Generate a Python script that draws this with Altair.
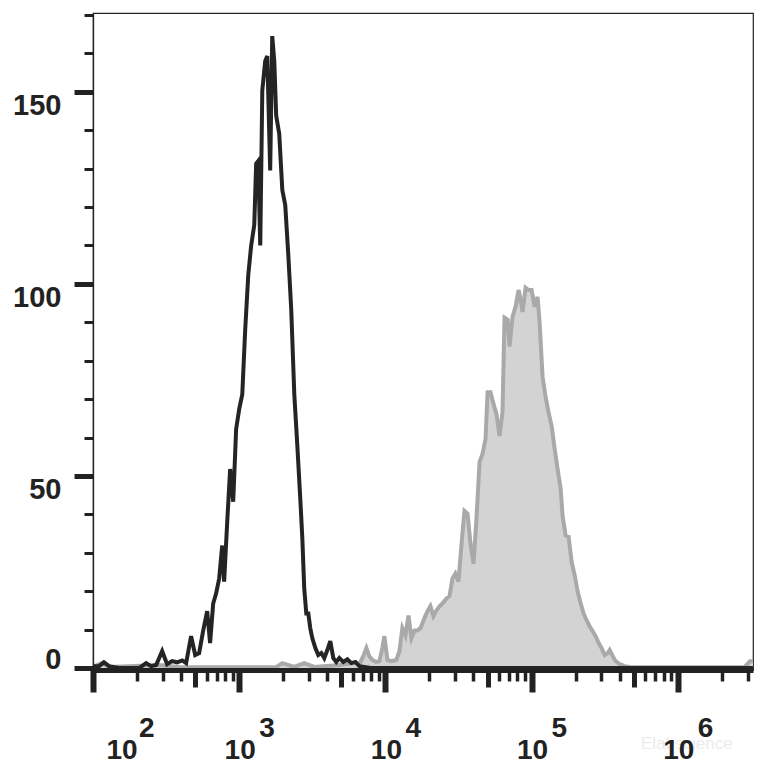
import altair as alt
import pandas as pd

# ---- data (log10 fluorescence, event count) ----
black_log = [2.000, 2.041, 2.075, 2.110, 2.178, 2.247, 2.315, 2.363, 2.397, 2.432,
             2.473, 2.507, 2.541, 2.575, 2.610, 2.637, 2.671, 2.699, 2.726, 2.753,
             2.781, 2.801, 2.822, 2.842, 2.863, 2.884, 2.897, 2.918, 2.938, 2.959,
             2.979, 3.000, 3.021, 3.041, 3.062, 3.082, 3.103, 3.116, 3.130, 3.144,
             3.158, 3.178, 3.192, 3.212, 3.226, 3.240, 3.253, 3.274, 3.295, 3.315,
             3.336, 3.356, 3.377, 3.397, 3.418, 3.432, 3.445, 3.459, 3.473, 3.486,
             3.500, 3.521, 3.541, 3.562, 3.582, 3.603, 3.623, 3.644, 3.664, 3.685,
             3.712, 3.740, 3.767, 3.795, 3.822, 3.900, 4.500, 5.500, 6.514]
black_count = [0.5, 0.5, 1.5, 0.5, 0.0, 0.0, 0.0, 1.3, 0.5, 0.8,
               4.4, 1.0, 1.8, 1.5, 2.0, 1.3, 8.3, 3.4, 3.9, 9.6,
               14.8, 6.5, 16.8, 19.4, 23.3, 31.9, 22.5, 38.0, 51.8, 43.3,
               62.2, 67.4, 71.2, 88.0, 102.3, 110.0, 115.3, 131.3, 132.0, 110.0,
               150.3, 158.0, 159.3, 129.5, 164.5, 158.0, 143.8, 139.0, 124.4, 120.5,
               107.5, 93.3, 71.2, 58.3, 44.0, 33.7, 20.7, 14.2, 14.2, 10.4,
               7.8, 5.2, 3.4, 3.9, 2.6, 4.7, 7.0, 2.6, 1.6, 2.6,
               1.6, 2.3, 1.3, 1.6, 0.5, 0.0, 0.0, 0.0, 0.0]

gray_log = [2.000, 2.062, 2.110, 2.452, 2.589, 3.250, 3.295, 3.377, 3.445, 3.514,
            3.685, 3.788, 3.822, 3.849, 3.870, 3.890, 3.911, 3.938, 3.959, 3.979,
            3.993, 4.014, 4.041, 4.075, 4.096, 4.116, 4.137, 4.158, 4.178, 4.199,
            4.219, 4.240, 4.267, 4.288, 4.308, 4.329, 4.349, 4.370, 4.390, 4.418,
            4.438, 4.459, 4.479, 4.500, 4.521, 4.541, 4.562, 4.582, 4.603, 4.623,
            4.644, 4.664, 4.685, 4.699, 4.719, 4.740, 4.760, 4.781, 4.801, 4.815,
            4.836, 4.849, 4.870, 4.890, 4.911, 4.925, 4.938, 4.959, 4.979, 5.000,
            5.021, 5.041, 5.055, 5.075, 5.096, 5.116, 5.137, 5.158, 5.178, 5.199,
            5.212, 5.233, 5.253, 5.274, 5.295, 5.315, 5.336, 5.356, 5.377, 5.397,
            5.418, 5.438, 5.459, 5.479, 5.500, 5.521, 5.534, 5.555, 5.575, 5.603,
            5.637, 5.671, 6.151, 6.459, 6.493, 6.514]
gray_count = [0.3, 1.3, 0.3, 0.8, 0.3, 0.2, 1.3, 0.3, 1.3, 0.3,
              0.8, 1.3, 1.0, 3.1, 5.2, 3.1, 2.1, 1.6, 1.8, 5.2,
              8.3, 2.1, 1.8, 2.1, 4.4, 10.4, 8.5, 13.7, 7.8, 9.8,
              9.8, 10.4, 13.0, 14.8, 16.1, 13.5, 15.0, 16.1, 16.8, 18.1,
              18.7, 23.3, 24.6, 22.5, 32.4, 40.9, 40.2, 32.4, 27.2, 38.9,
              53.6, 55.7, 59.6, 71.8, 71.8, 68.7, 66.1, 60.4, 66.6, 91.2,
              90.7, 83.7, 91.5, 94.0, 98.4, 95.9, 92.7, 99.0, 98.4, 98.4,
              94.0, 96.6, 89.9, 75.9, 70.5, 66.6, 63.0, 57.0, 51.8, 46.6,
              39.6, 34.5, 34.2, 27.7, 24.1, 19.9, 16.8, 14.2, 12.4, 10.9,
              9.6, 8.3, 6.5, 5.2, 3.4, 3.9, 4.7, 3.1, 1.8, 1.0,
              0.5, 0.3, 0.2, 0.3, 1.8, 1.8]

y_tick_values = [0, 10, 20, 30, 40, 50, 60, 70, 80, 90, 100, 110, 120, 130, 140, 150, 160, 170]
x_decades = [2, 3, 4, 5, 6]
x_multipliers = [1, 2, 3, 4, 5, 6, 7, 8, 9]
x_label_base = ["10", "10", "10", "10", "10"]
x_label_exp = ["2", "3", "4", "5", "6"]
watermark = ["Elabscience"]

X_DOMAIN = [100, 3.27e6]
Y_DOMAIN = [-0.5, 170.5]
x_tick_values = [m * 10 ** d for d in x_decades for m in x_multipliers if m * 10 ** d <= X_DOMAIN[1]]

FONT = "Liberation Sans"
INK = "#222222"
WEIGHT = "bold"

black_df = pd.DataFrame({"lg": black_log, "count": black_count})
gray_df = pd.DataFrame({"lg": gray_log, "count": gray_count})
label_df = pd.DataFrame({"lg": x_decades, "base": x_label_base, "exp": x_label_exp})
wm_df = pd.DataFrame({"t": watermark})

major_x = "abs(log(datum.value)/LN10 - round(log(datum.value)/LN10)) < 0.001"
mid_x = "abs(datum.value / pow(10, floor(log(datum.value)/LN10 + 0.000001)) - 5) < 0.001"
major_y = "datum.value % 50 === 0"

x_axis = alt.Axis(
    values=x_tick_values, labels=False, title=None, grid=False,
    domainColor=INK, domainWidth=5, domainCap="butt",
    tickColor=INK, tickCap="butt",
    tickSize={"condition": [{"test": major_x, "value": 22}, {"test": mid_x, "value": 17}], "value": 11},
    tickWidth={"condition": [{"test": major_x, "value": 6}, {"test": mid_x, "value": 5}], "value": 3.5},
    zindex=1,
)
y_axis = alt.Axis(
    values=y_tick_values, title=None, grid=False,
    domainColor=INK, domainWidth=1.3,
    tickColor=INK, tickCap="butt",
    tickSize={"condition": {"test": major_y, "value": 19}, "value": 9},
    tickWidth={"condition": {"test": major_y, "value": 5}, "value": 3},
    labelExpr="datum.value % 50 === 0 ? datum.label : ''",
    labelFont=FONT, labelFontSize=29, labelColor=INK, labelPadding=13,
    labelFontWeight=WEIGHT,
    labelBaseline={"condition": {"test": "datum.value === 0", "value": "alphabetic"}, "value": "top"},
    labelFlush=False, labelOverlap=False,
    zindex=1,
)

x_enc = alt.X("v:Q", scale=alt.Scale(type="log", domain=X_DOMAIN), axis=x_axis)
y_enc = alt.Y("count:Q", scale=alt.Scale(domain=Y_DOMAIN, nice=False, zero=False), axis=y_axis)

calc = {"v": "pow(10, datum.lg)"}

gray_fill = alt.Chart(gray_df).transform_calculate(**calc).mark_area(
    color="#d3d3d3", opacity=1
).encode(x=x_enc, y=y_enc)

gray_line = alt.Chart(gray_df).transform_calculate(**calc).mark_line(
    color="#a9a9a9", strokeWidth=4, strokeJoin="miter"
).encode(x=x_enc, y=y_enc)

black_line = alt.Chart(black_df).transform_calculate(**calc).mark_line(
    color="#242424", strokeWidth=4, strokeJoin="miter"
).encode(x=x_enc, y=y_enc)

wm = alt.Chart(wm_df).mark_text(
    align="left", baseline="alphabetic", font=FONT, fontSize=17, color="#ececec"
).encode(x=alt.value(548), y=alt.value(736), text="t:N")

def label_layer(filt, field, dx, align, ypix):
    return alt.Chart(label_df).transform_calculate(**calc).transform_filter(filt).mark_text(
        align=align, baseline="alphabetic", font=FONT, fontSize=28,
        fontWeight=WEIGHT, color=INK, dx=dx
    ).encode(x=x_enc, y=alt.value(ypix), text=f"{field}:N")

lab_first = label_layer("datum.lg == 2", "base", 29, "center", 746)
lab_rest = label_layer("datum.lg > 2", "base", 1, "center", 746)
exp_first = label_layer("datum.lg == 2", "exp", 46, "left", 724)
exp_rest = label_layer("datum.lg > 2", "exp", 20, "left", 724)

chart = alt.layer(
    gray_fill, gray_line, black_line, wm, lab_first, lab_rest, exp_first, exp_rest
).properties(
    width=660, height=657,
    autosize=alt.AutoSizeParams(type="none"),
    padding={"left": 85, "top": 5, "right": 2, "bottom": 94},
).configure_view(stroke=INK, strokeWidth=1.2)

chart.save("out.html", embed_options={"renderer": "svg", "actions": False})
